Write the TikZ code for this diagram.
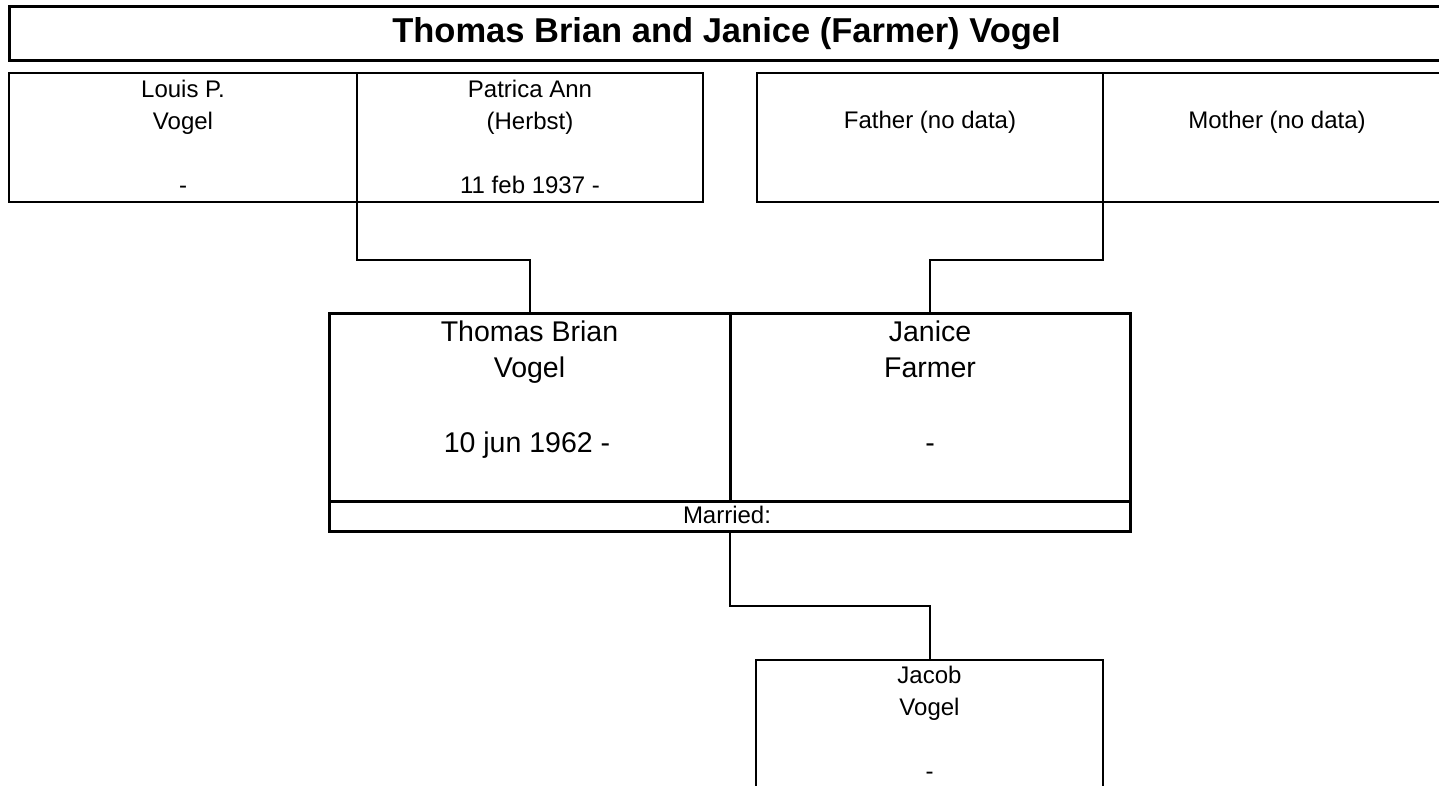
\documentclass[tikz,border=0pt]{standalone}
\usepackage{fontspec}
\setmainfont{Liberation Sans}
\begin{document}
\begin{tikzpicture}[x=1pt,y=-1pt,
  boxbase/.style={draw, rectangle, inner sep=0pt, outer sep=0pt, anchor=north west},
  gbox/.style={boxbase, line width=2pt},
  cbox/.style={boxbase, line width=3pt},
  tbox/.style={boxbase, line width=3pt},
  sm/.style={anchor=base, inner sep=0pt, font=\fontsize{24}{28}\selectfont},
  big/.style={anchor=base, inner sep=0pt, font=\fontsize{28.5}{34}\selectfont},
  ttl/.style={anchor=base, inner sep=0pt, font=\fontsize{34.5}{40}\selectfont\bfseries},
  conn/.style={draw, line width=2pt}]
\useasboundingbox (0,0) rectangle (1439,785);
\clip (0,0) rectangle (1439,785);
\fill[white] (0,0) rectangle (1439,785);

% title
\node[tbox, minimum width=1436, minimum height=54] (title) at (9,6.5) {};
\node[ttl] (titletext) at (726.5,42.3) {Thomas Brian and Janice (Farmer) Vogel};

% grandparents
\node[gbox, minimum width=348, minimum height=128.5] (louis) at (9,73) {};
\node[gbox, minimum width=346, minimum height=128.5] (patricia) at (357,73) {};
\node[gbox, minimum width=346, minimum height=128.5] (father) at (757,73) {};
\node[gbox, minimum width=346, minimum height=128.5] (mother) at (1103,73) {};

\node[sm] (louisA) at (183,97) {Louis P.};
\node[sm] (louisB) at (183,129) {Vogel};
\node[sm] (louisC) at (183,193) {-};
\node[sm] (patA) at (530,97) {Patrica Ann};
\node[sm] (patB) at (530,129) {(Herbst)};
\node[sm] (patC) at (530,193) {11 feb 1937 -};
\node[sm] (fatherA) at (930,128) {Father (no data)};
\node[sm] (motherA) at (1277,128) {Mother (no data)};

% couple
\node[cbox, minimum width=401, minimum height=188] (thomas) at (329,313) {};
\node[cbox, minimum width=400, minimum height=188] (janice) at (730,313) {};
\node[cbox, minimum width=801, minimum height=30.5] (married) at (329,501) {};

\node[big] (thomasA) at (529.5,341) {Thomas Brian};
\node[big] (thomasB) at (529.5,377) {Vogel};
\node[big] (thomasC) at (527,452) {10 jun 1962 -};
\node[big] (janiceA) at (930,341) {Janice};
\node[big] (janiceB) at (930,377) {Farmer};
\node[big] (janiceC) at (930,452) {-};
\node[sm] (marriedA) at (727,523) {Married:};

% child
\node[gbox, minimum width=347, minimum height=128] (jacob) at (756,660) {};
\node[sm] (jacobA) at (929.5,683) {Jacob};
\node[sm] (jacobB) at (929.5,715) {Vogel};
\node[sm] (jacobC) at (929.5,779) {-};

% connectors
\coordinate (jl) at (357,260);
\coordinate (jr) at (1103,260);
\coordinate (jc) at (729.5,606);
\draw[conn] (louis.south east) -- (jl) -| (thomas.north);
\draw[conn] (father.south east) -- (jr) -| (janice.north);
\draw[conn] (married.south) -- (jc) -| (jacob.north);
\end{tikzpicture}
\end{document}
